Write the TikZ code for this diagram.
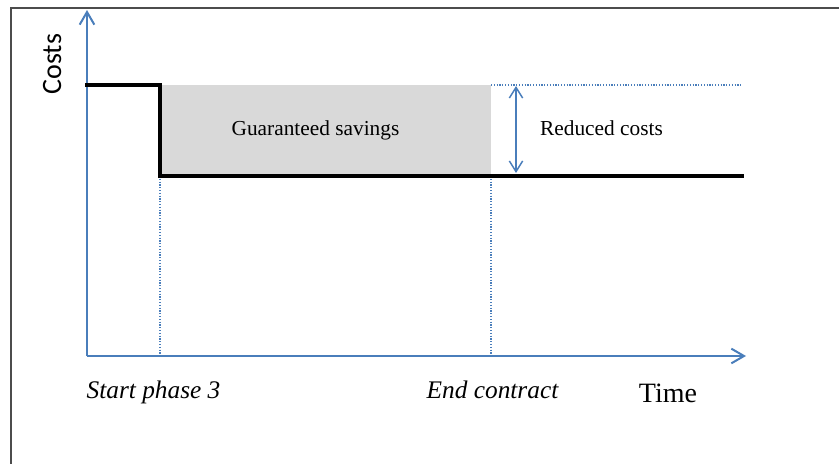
\documentclass[tikz,border=0pt]{standalone}
\usepackage{fontspec}
\setmainfont{Liberation Serif}
\newfontfamily\costsfont{Carlito}
\usepackage{tikz}
\usetikzlibrary{arrows.meta,positioning}

\definecolor{axisblue}{HTML}{4A7EBB}
\definecolor{savegray}{HTML}{D9D9D9}

\begin{document}
\begin{tikzpicture}[x=0.75pt,y=-0.75pt]

\tikzset{axis/.style = {draw=axisblue,line width=1.5pt,-{Straight Barb[length=9.5pt,width=11pt]}}}
\tikzset{guide/.style = {draw=axisblue,line width=0.9pt,dash pattern=on 0.9pt off 1.2pt}}
\tikzset{cost/.style = {line width=3pt,line cap=rect}}
\tikzset{label/.style = {inner sep=0pt,anchor=base,font=\fontsize{16}{18}\selectfont}}
\tikzset{when/.style = {inner sep=0pt,anchor=base,font=\fontsize{19}{21}\selectfont\itshape}}

\useasboundingbox (0,0) rectangle (839,464);

% frame
\draw[black!70,line width=1.5pt] (11,464) -- (11,8) -- (839,8);

% points
\coordinate (o) at (87,356);
\coordinate (ytop) at (87,10);
\coordinate (xend) at (746,356);
\coordinate (c1) at (87,85);
\coordinate (c2) at (160,85);
\coordinate (c3) at (160,176);
\coordinate (c4) at (742,176);
\coordinate (e1) at (491,85);
\coordinate (e2) at (491,176);
\coordinate (e3) at (742,85);
\coordinate (s1) at (160,356);
\coordinate (s2) at (491,356);
\coordinate (r1) at (516,86);
\coordinate (r2) at (516,173);

% savings area
\fill[savegray] (c2) rectangle (e2);

% guides
\draw[guide] (e1) -- (e3);
\draw[guide] (c3) -- (s1);
\draw[guide] (e2) -- (s2);

% axes
\draw[axis] (o) -- (ytop);
\draw[axis] (o) -- (xend);

% costs line
\draw[cost] (c1) -- (c2) -- (c3) -- (c4);

% reduction
\draw[draw=axisblue,line width=1.1pt,{Straight Barb[length=8pt,width=10pt]}-{Straight Barb[length=8pt,width=10pt]}] (r1) -- (r2);

% labels
\node[inner sep=0pt,anchor=base,rotate=90,font=\costsfont\fontsize{21}{23}\selectfont] (costs) at (61,64) {Costs};
\node[label] (savings) at (315.5,135) {Guaranteed savings};
\node[label] (reduced) at (601.5,135) {Reduced costs};
\node[when] (start) at (153.5,398) {Start phase 3};
\node[when] (end) at (492.5,398) {End contract};
\node[inner sep=0pt,anchor=base,font=\fontsize{21}{23}\selectfont] (time) at (668,402) {Time};

\end{tikzpicture}
\end{document}
